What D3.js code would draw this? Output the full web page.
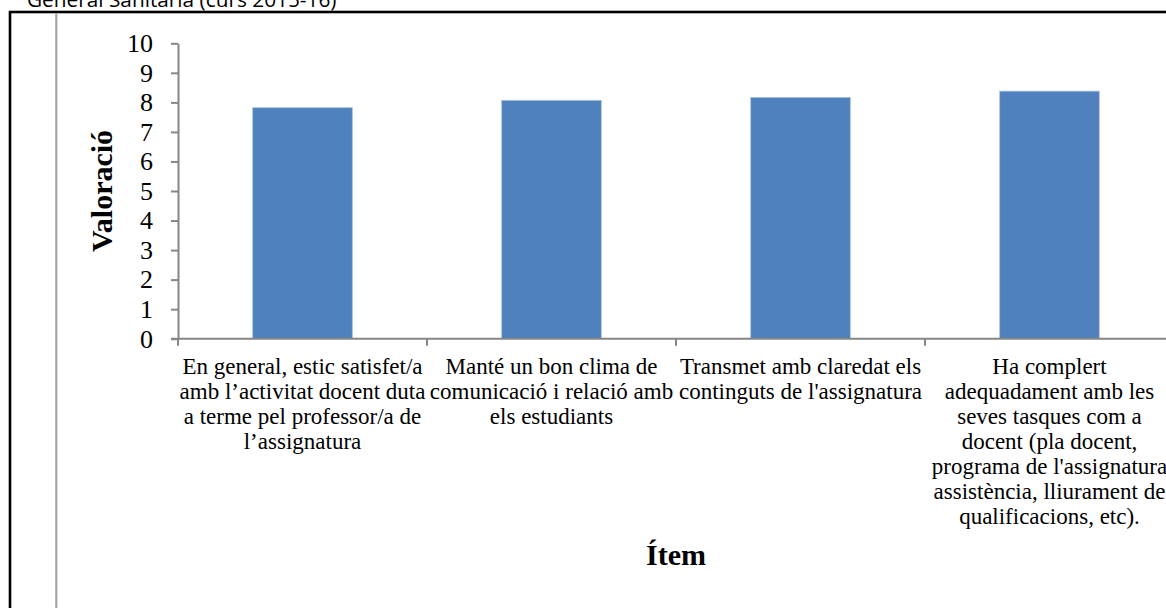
<!DOCTYPE html>
<html><head><meta charset="utf-8">
<script src="https://cdn.jsdelivr.net/npm/d3@7"></script>
<style>body{margin:0;background:#fff;overflow:hidden}</style>
</head><body>
<svg id="c" width="1166" height="608"></svg>
<script>
const categories = [
  ["En general, estic satisfet/a","amb l’activitat docent duta","a terme pel professor/a de","l’assignatura"],
  ["Manté un bon clima de","comunicació i relació amb","els estudiants"],
  ["Transmet amb claredat els","continguts de l'assignatura"],
  ["Ha complert","adequadament amb les","seves tasques com a","docent (pla docent,","programa de l'assignatura","assistència, lliurament de","qualificacions, etc)."]
];
const values = [7.82, 8.07, 8.17, 8.38];
const yTicks = [0,1,2,3,4,5,6,7,8,9,10];
const yTitle = "Valoració";
const xTitle = "Ítem";
const headerText = "General Sanitaria (curs 2015-16)";

(function(){
const svg = d3.select("#c");
const serif = "'Liberation Serif', 'Times New Roman', serif";

// header and frame
svg.append("text").attr("x",27).attr("y",7).attr("font-family","'Open Sans', 'Liberation Sans', Arial, sans-serif")
  .attr("font-size",20.8).attr("fill","#000").text(headerText);
svg.append("rect").attr("x",10).attr("y",12).attr("width",1200).attr("height",700)
  .attr("fill","none").attr("stroke","#000").attr("stroke-width",2.6);
svg.append("line").attr("x1",56.3).attr("x2",56.3).attr("y1",13).attr("y2",608)
  .attr("stroke","#a6a6a6").attr("stroke-width",2.2);

const pLeft = 178, pRight = 1174, pTop = 43.3, pBottom = 338.7;
const idx = d3.range(values.length);
const x = d3.scaleBand().domain(idx).range([pLeft,pRight]).paddingInner(0.6).paddingOuter(0.3);
const y = d3.scaleLinear().domain([0,10]).range([pBottom,pTop]);

// bars
svg.append("g").selectAll("rect").data(values).join("rect")
  .attr("x",(d,i)=>x(i)).attr("width",x.bandwidth())
  .attr("y",d=>y(d)).attr("height",d=>y(0)-y(d))
  .attr("fill","#4f81bd").attr("stroke","#a9c1e0").attr("stroke-width",0.8);

// y axis
const gy = svg.append("g").attr("transform",`translate(${pLeft},0)`)
  .call(d3.axisLeft(y).tickValues(yTicks).tickSize(7).tickPadding(18).tickSizeOuter(0).tickFormat(d3.format("d")));
gy.select(".domain").attr("stroke","#868686").attr("stroke-width",2);
gy.selectAll(".tick line").attr("stroke","#868686").attr("stroke-width",2);
gy.selectAll(".tick text").attr("font-family",serif).attr("font-size",26).attr("fill","#000");

// x axis (category boundaries)
const step = x.step();
const bounds = d3.range(values.length+1).map(i=>pLeft + i*step);
const gx = svg.append("g");
gx.append("line").attr("x1",pLeft-7).attr("x2",1166).attr("y1",pBottom).attr("y2",pBottom)
  .attr("stroke","#868686").attr("stroke-width",2);
gx.selectAll("line.t").data(bounds).join("line").attr("class","t")
  .attr("x1",d=>d).attr("x2",d=>d).attr("y1",pBottom).attr("y2",pBottom+7)
  .attr("stroke","#868686").attr("stroke-width",2);

// category labels
const lab = svg.append("g");
categories.forEach((lines,i)=>{
  const cx = x(i)+x.bandwidth()/2;
  const t = lab.append("text").attr("font-family",serif).attr("font-size",23)
    .attr("text-anchor","middle").attr("fill","#000");
  lines.forEach((ln,j)=>{
    t.append("tspan").attr("x",cx).attr("y",373.5 + j*25).text(ln);
  });
});

// axis titles
svg.append("text").attr("transform",`translate(112,191) rotate(-90)`)
  .attr("text-anchor","middle").attr("font-family",serif).attr("font-weight","bold")
  .attr("font-size",30).text(yTitle);
svg.append("text").attr("x",(pLeft+pRight)/2).attr("y",565).attr("text-anchor","middle")
  .attr("font-family",serif).attr("font-weight","bold").attr("font-size",30).text(xTitle);
})();
</script>
</body></html>
